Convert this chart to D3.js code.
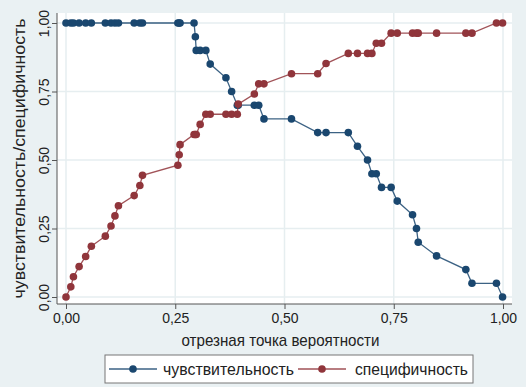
<!DOCTYPE html>
<html>
<head>
<meta charset="utf-8">
<script src="https://cdn.jsdelivr.net/npm/d3@7"></script>
<style>
  body { margin: 0; background: #eaf1f3; }
  text { font-family: "Liberation Sans", Arial, sans-serif; fill: #222; }
</style>
</head>
<body>
<svg id="drawing_region"></svg>
<script>
// cutoff points (x) with sensitivity and specificity at each
const cutoffs = [0, 0.011, 0.017, 0.030, 0.045, 0.058, 0.090, 0.103, 0.112, 0.120, 0.156, 0.169, 0.175, 0.256, 0.259, 0.261,
  0.293, 0.296, 0.298, 0.307, 0.320, 0.330, 0.366, 0.379, 0.392, 0.394,
  0.431, 0.441, 0.453, 0.516, 0.576, 0.595, 0.646, 0.667, 0.690, 0.700,
  0.710, 0.722, 0.744, 0.758, 0.793, 0.802, 0.806, 0.848, 0.915, 0.929,
  0.985, 0.999];
const sensitivity = [1, 1, 1, 1, 1, 1, 1, 1, 1, 1, 1, 1, 1, 1, 1, 1,
  1, 0.95, 0.90, 0.90, 0.90, 0.85, 0.80, 0.75, 0.70, 0.70,
  0.70, 0.70, 0.65, 0.65, 0.60, 0.60, 0.60, 0.55, 0.50, 0.45,
  0.45, 0.40, 0.40, 0.35, 0.30, 0.25, 0.20, 0.15, 0.10, 0.05,
  0.05, 0];
const specificity = [0, 0.037, 0.074, 0.111, 0.148, 0.185, 0.222, 0.259, 0.296, 0.333, 0.370, 0.407, 0.444, 0.481, 0.519, 0.556,
  0.593, 0.593, 0.593, 0.630, 0.667, 0.667, 0.667, 0.667, 0.667, 0.704,
  0.741, 0.778, 0.778, 0.815, 0.815, 0.852, 0.889, 0.889, 0.889, 0.889,
  0.926, 0.926, 0.963, 0.963, 0.963, 0.963, 0.963, 0.963, 0.963, 0.963,
  1, 1];
const xTicks = [0, 0.25, 0.5, 0.75, 1];
const yTicks = [0, 0.25, 0.5, 0.75, 1];
const seriesNames = ['чувствительность', 'специфичность'];
const seriesColors = ['#1a476f', '#90353b'];

const W = 526, H = 387;
const svg = d3.select('#drawing_region').attr('width', W).attr('height', H);
const fmt = v => d3.format('.2f')(v).replace('.', ',');

svg.append('rect').attr('width', W).attr('height', H).attr('fill', '#eaf1f3');
// plot region
svg.append('rect').attr('x', 57).attr('y', 13).attr('width', 455).attr('height', 291)
  .attr('fill', '#fff');

const x = d3.scaleLinear().domain([0, 1]).range([66, 503]);
const y = d3.scaleLinear().domain([0, 1]).range([297, 23]);

// grid
svg.append('g').selectAll('line.h').data(yTicks).join('line')
  .attr('x1', 57).attr('x2', 512).attr('y1', d => y(d)).attr('y2', d => y(d))
  .attr('stroke', '#e6eef0').attr('stroke-width', 1.5);
svg.append('g').selectAll('line.v').data(xTicks).join('line')
  .attr('y1', 13).attr('y2', 304).attr('x1', d => x(d)).attr('x2', d => x(d))
  .attr('stroke', '#e6eef0').attr('stroke-width', 1.5);

// axes
const xAxis = svg.append('g').attr('transform', 'translate(0,304)')
  .call(d3.axisBottom(x).tickValues(xTicks).tickFormat(fmt).tickSize(5).tickPadding(4));
xAxis.select('.domain').attr('d', 'M57,0H512').attr('stroke', '#555');
xAxis.selectAll('.tick line').attr('stroke', '#555');
xAxis.selectAll('text').attr('font-size', 14).style('fill', '#222');

const yAxis = svg.append('g').attr('transform', 'translate(57,0)')
  .call(d3.axisLeft(y).tickValues(yTicks).tickFormat(fmt).tickSize(5));
yAxis.select('.domain').attr('d', 'M0,13V304').attr('stroke', '#555');
yAxis.selectAll('.tick line').attr('stroke', '#555');
yAxis.selectAll('text')
  .attr('font-size', 14).style('fill', '#222')
  .attr('x', null).attr('dy', null)
  .attr('text-anchor', 'middle')
  .attr('transform', 'translate(-8,0) rotate(-90)');

// titles (condensed face in original, so squeeze to its width)
svg.append('text').attr('x', x(0.5) - 4).attr('y', 346).attr('text-anchor', 'middle')
  .attr('font-size', 17).attr('textLength', 198).attr('lengthAdjust', 'spacingAndGlyphs')
  .text('отрезная точка вероятности');
svg.append('text').attr('transform', `translate(25,${(13 + 304) / 2}) rotate(-90)`)
  .attr('text-anchor', 'middle').attr('font-size', 17)
  .attr('textLength', 280).attr('lengthAdjust', 'spacingAndGlyphs')
  .text('чувствительность/специфичность');

// series
const series = [sensitivity, specificity];
series.forEach((vals, i) => {
  const pts = cutoffs.map((c, j) => [c, vals[j]]);
  const line = d3.line().x(d => x(d[0])).y(d => y(d[1]));
  svg.append('path').datum(pts).attr('d', line)
    .attr('fill', 'none').attr('stroke', seriesColors[i]).attr('stroke-width', 1.3)
    .attr('opacity', 0.85);
  svg.append('g').selectAll('circle').data(pts).join('circle')
    .attr('cx', d => x(d[0])).attr('cy', d => y(d[1])).attr('r', 3.8)
    .attr('fill', seriesColors[i]);
});

// legend
const lg = svg.append('g');
lg.append('rect').attr('x', 105).attr('y', 355).attr('width', 368).attr('height', 28)
  .attr('fill', '#fff').attr('stroke', '#777').attr('stroke-width', 1);
const legendPos = [{lx: 109, tx: 163, tl: 131}, {lx: 298, tx: 355, tl: 113}];
seriesNames.forEach((name, i) => {
  const p = legendPos[i];
  lg.append('line').attr('x1', p.lx).attr('x2', p.lx + 48).attr('y1', 369).attr('y2', 369)
    .attr('stroke', seriesColors[i]).attr('stroke-width', 1.3).attr('opacity', 0.85);
  lg.append('circle').attr('cx', p.lx + 24).attr('cy', 369).attr('r', 3.8).attr('fill', seriesColors[i]);
  lg.append('text').attr('x', p.tx).attr('y', 375).attr('font-size', 17)
    .attr('textLength', p.tl).attr('lengthAdjust', 'spacingAndGlyphs').text(name);
});
</script>
</body>
</html>
